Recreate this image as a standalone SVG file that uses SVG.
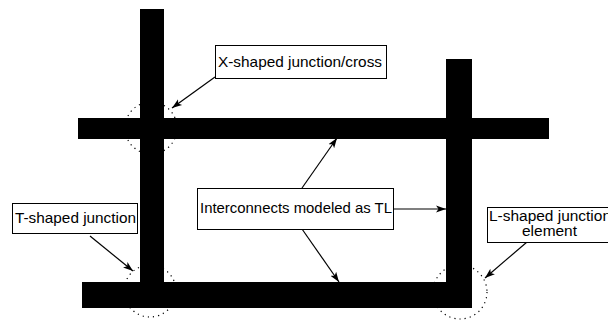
<svg xmlns="http://www.w3.org/2000/svg" width="608" height="320" viewBox="0 0 608 320">
<defs>
<marker id="ah" viewBox="0 0 10 10" refX="10" refY="5" markerWidth="10" markerHeight="10" markerUnits="userSpaceOnUse" orient="auto">
<path d="M0,1.5 L10,5 L0,8.5 L2.5,5 Z" fill="#000"/>
</marker>
<style>
.bar{fill:#000}
.box{fill:#fff;stroke:#000;stroke-width:1}
.lbl{font-family:"Liberation Sans",Arial,sans-serif;font-size:15px;fill:#000}
.sm{font-size:14px}
.c{stroke:#000;stroke-width:1.2;fill:none;marker-end:url(#ah)}
.dot{fill:none;stroke:#000;stroke-width:1.2;stroke-dasharray:1.2 4}
</style>
</defs>
<g id="wires">
<rect class="bar" x="140" y="9" width="24" height="299"/>
<rect class="bar" x="446" y="59" width="26" height="249"/>
<rect class="bar" x="78" y="118" width="471" height="21"/>
<rect class="bar" x="82" y="282" width="390" height="26"/>
</g>
<g id="junction-circles">
<circle class="dot" cx="151" cy="128" r="26"/>
<circle class="dot" cx="150" cy="291" r="26"/>
<circle class="dot" cx="460" cy="292" r="27"/>
</g>
<g id="connectors">
<line class="c" x1="215" y1="77" x2="172" y2="108"/>
<line class="c" x1="90" y1="236" x2="133" y2="271"/>
<line class="c" x1="302" y1="188" x2="337" y2="138"/>
<line class="c" x1="302" y1="229" x2="339" y2="282"/>
<line class="c" x1="394" y1="209" x2="446" y2="209"/>
<line class="c" x1="527" y1="242" x2="485" y2="278"/>
</g>
<g id="x-label">
<rect class="box" x="215.5" y="45.5" width="171" height="33"/>
<text class="lbl" x="218" y="67" textLength="164" lengthAdjust="spacingAndGlyphs">X-shaped junction/cross</text>
</g>
<g id="t-label">
<rect class="box" x="12.5" y="203.5" width="125" height="30"/>
<text class="lbl" x="15" y="223" textLength="121" lengthAdjust="spacingAndGlyphs">T-shaped junction</text>
</g>
<g id="tl-label">
<rect class="box" x="197.5" y="188.5" width="196" height="41"/>
<text class="lbl" x="200" y="213" textLength="192" lengthAdjust="spacingAndGlyphs">Interconnects modeled as TL</text>
</g>
<g id="l-label">
<rect class="box" x="487.5" y="207.5" width="130" height="35"/>
<text class="lbl sm" x="489" y="221" textLength="122" lengthAdjust="spacingAndGlyphs">L-shaped junction</text>
<text class="lbl sm" x="522" y="236" textLength="55" lengthAdjust="spacingAndGlyphs">element</text>
</g>
</svg>
